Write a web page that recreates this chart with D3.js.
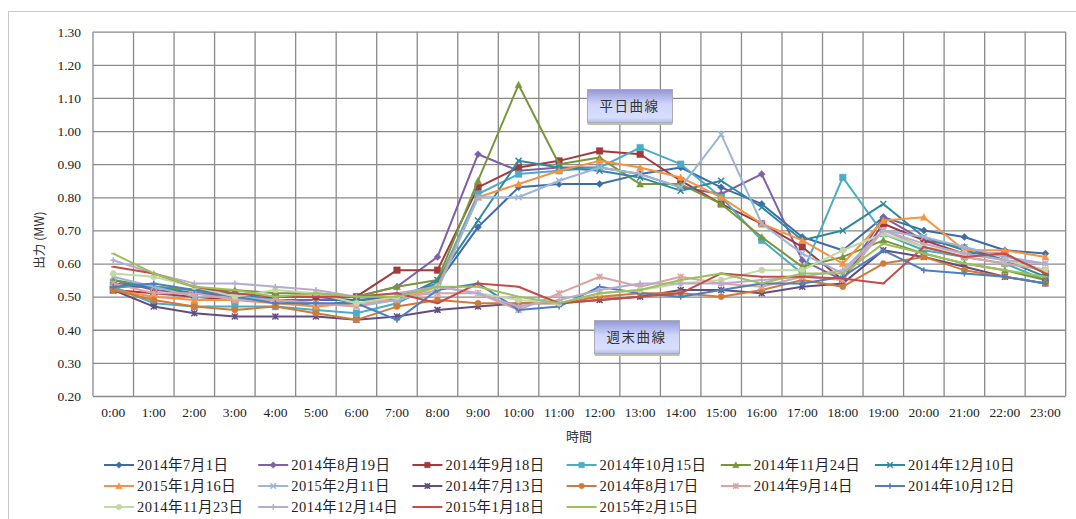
<!DOCTYPE html>
<html><head><meta charset="utf-8">
<script src="https://cdn.jsdelivr.net/npm/d3@7"></script>
<style>
html,body{margin:0;padding:0;background:#fff;}
svg{display:block;}
</style>
</head><body>
<svg id="chart" width="1076" height="519"></svg>
<script>
const hours = ["0:00","1:00","2:00","3:00","4:00","5:00","6:00","7:00","8:00","9:00","10:00","11:00","12:00","13:00","14:00","15:00","16:00","17:00","18:00","19:00","20:00","21:00","22:00","23:00"];
const yTicks = [0.20,0.30,0.40,0.50,0.60,0.70,0.80,0.90,1.00,1.10,1.20,1.30];

const seriesNames = ["2014年7月1日","2014年8月19日","2014年9月18日","2014年10月15日","2014年11月24日","2014年12月10日",
  "2015年1月16日","2015年2月11日","2014年7月13日","2014年8月17日","2014年9月14日","2014年10月12日",
  "2014年11月23日","2014年12月14日","2015年1月18日","2015年2月15日"];
const seriesColors = ["#3d6ca6","#7f60a8","#a3393b","#4aacc5","#78973c","#2f8aa0",
  "#f7923f","#9db5d8","#634c82","#d27a35","#dba3a2","#4a7fc0",
  "#c3d8a3","#b9a9d0","#c24d4a","#9bc15a"];
const seriesMarkers = ["diamond","diamond","square","square","triangle","x","triangle","x",
  "star","circle","asterisk","plus","circle","plus","dash","dash"];

const s0701 = [0.53,0.53,0.52,0.50,0.49,0.49,0.49,0.50,0.54,0.71,0.83,0.84,0.84,0.87,0.89,0.83,0.78,0.68,0.64,0.74,0.70,0.68,0.64,0.63];
const s0819 = [0.55,0.52,0.51,0.50,0.49,0.49,0.50,0.53,0.62,0.93,0.88,0.89,0.89,0.87,0.83,0.81,0.87,0.61,0.55,0.74,0.67,0.65,0.61,0.58];
const s0918 = [0.52,0.51,0.50,0.49,0.50,0.50,0.50,0.58,0.58,0.83,0.89,0.91,0.94,0.93,0.85,0.78,0.72,0.65,0.55,0.72,0.67,0.63,0.63,0.57];
const s1015 = [0.53,0.48,0.47,0.47,0.47,0.46,0.45,0.48,0.54,0.81,0.87,0.88,0.89,0.95,0.90,0.80,0.67,0.57,0.86,0.69,0.64,0.62,0.60,0.55];
const s1124 = [0.55,0.53,0.52,0.52,0.51,0.51,0.50,0.53,0.55,0.85,1.14,0.90,0.92,0.84,0.84,0.78,0.68,0.59,0.62,0.67,0.63,0.60,0.58,0.55];
const s1210 = [0.54,0.53,0.51,0.51,0.49,0.47,0.49,0.49,0.55,0.73,0.91,0.89,0.88,0.86,0.82,0.85,0.77,0.67,0.70,0.78,0.68,0.64,0.61,0.56];
const s0116 = [0.52,0.50,0.49,0.49,0.48,0.47,0.48,0.49,0.53,0.80,0.84,0.88,0.91,0.89,0.86,0.80,0.72,0.67,0.60,0.73,0.74,0.64,0.64,0.62];
const s0211 = [0.56,0.53,0.50,0.50,0.49,0.48,0.47,0.49,0.52,0.80,0.80,0.85,0.89,0.87,0.83,0.99,0.72,0.63,0.57,0.70,0.68,0.65,0.62,0.60];
const s0713 = [0.52,0.47,0.45,0.44,0.44,0.44,0.43,0.44,0.46,0.47,0.48,0.48,0.49,0.50,0.52,0.52,0.51,0.53,0.54,0.64,0.62,0.59,0.56,0.54];
const s0817 = [0.52,0.49,0.47,0.46,0.47,0.45,0.43,0.47,0.49,0.48,0.48,0.48,0.50,0.51,0.51,0.50,0.52,0.55,0.53,0.60,0.62,0.58,0.56,0.54];
const s0914 = [0.54,0.51,0.51,0.49,0.49,0.48,0.47,0.50,0.51,0.51,0.46,0.51,0.56,0.53,0.56,0.54,0.53,0.56,0.55,0.70,0.65,0.62,0.60,0.58];
const s1012 = [0.53,0.54,0.52,0.50,0.48,0.48,0.48,0.43,0.52,0.54,0.46,0.47,0.53,0.51,0.50,0.52,0.54,0.54,0.56,0.64,0.58,0.57,0.56,0.54];
const s1123 = [0.57,0.56,0.53,0.50,0.52,0.51,0.48,0.50,0.53,0.51,0.49,0.48,0.51,0.52,0.54,0.55,0.58,0.58,0.64,0.69,0.65,0.63,0.61,0.58];
const s1214 = [0.61,0.57,0.54,0.54,0.53,0.52,0.50,0.51,0.53,0.51,0.47,0.49,0.52,0.54,0.54,0.54,0.55,0.56,0.58,0.70,0.66,0.63,0.61,0.60];
const s0118 = [0.59,0.57,0.53,0.51,0.50,0.50,0.50,0.51,0.48,0.54,0.53,0.48,0.49,0.50,0.51,0.57,0.56,0.56,0.555,0.54,0.65,0.62,0.63,0.57];
const s0215 = [0.63,0.57,0.53,0.52,0.50,0.51,0.50,0.50,0.53,0.53,0.50,0.48,0.51,0.52,0.55,0.57,0.54,0.57,0.57,0.66,0.63,0.60,0.58,0.56];

const seriesValues = [s0701,s0819,s0918,s1015,s1124,s1210,s0116,s0211,s0713,s0817,s0914,s1012,s1123,s1214,s0118,s0215];

const svg = d3.select("#chart");
const plotL = 93, plotR = 1065.7, plotT = 31.7, plotB = 396;

// outer frame
svg.append("rect").attr("x",8.5).attr("y",11.5).attr("width",1100).attr("height",600)
  .attr("fill","none").attr("stroke","#c8c8c8").attr("stroke-width",1);

const x = d3.scaleBand().domain(hours).range([plotL,plotR]);
const y = d3.scaleLinear().domain([0.2,1.3]).range([plotB,plotT]);
const cx = h => x(h) + x.bandwidth()/2;

// horizontal grid
const gy = svg.append("g").attr("transform",`translate(${plotL},0)`)
  .call(d3.axisLeft(y).tickValues(yTicks).tickSize(-(plotR-plotL)).tickFormat(d3.format(".2f")).tickPadding(12));
gy.select(".domain").remove();
gy.selectAll(".tick line").attr("stroke","#8a8a8a").attr("stroke-width",1.3);
gy.selectAll(".tick text").attr("font-family","'Liberation Serif','Times New Roman',serif")
  .attr("font-size",13.5).attr("fill","#222");

// vertical grid
const gx = svg.append("g").attr("transform",`translate(0,${plotB})`)
  .call(d3.axisBottom(x).tickSize(0).tickPadding(11));
gx.select(".domain").remove();
gx.selectAll(".tick text").attr("font-family","'Liberation Serif','Times New Roman',serif")
  .attr("font-size",13.5).attr("fill","#222");
const vgrid = d3.range(hours.length+1).map(i => i===hours.length ? plotR : x(hours[i]));
svg.append("g").selectAll("line").data(vgrid).join("line")
  .attr("x1",d=>d).attr("x2",d=>d).attr("y1",plotT).attr("y2",plotB)
  .attr("stroke","#8a8a8a").attr("stroke-width",1.3);

// axis titles
svg.append("text").attr("x",579).attr("y",441).attr("text-anchor","middle")
  .attr("font-family","'Noto Sans CJK JP',sans-serif").attr("font-size",13).attr("fill","#333").text("時間");
svg.append("text").attr("transform","translate(44,240) rotate(-90)").attr("text-anchor","middle")
  .attr("font-family","'Noto Sans CJK JP',sans-serif").attr("font-size",12.5).attr("fill","#333").text("出力 (MW)");

function markerPath(type, s){
  const h = s/2;
  switch(type){
    case "diamond": return `M0,${-h-0.5}L${h+0.5},0L0,${h+0.5}L${-h-0.5},0Z`;
    case "square": return `M${-h},${-h}H${h}V${h}H${-h}Z`;
    case "triangle": return `M0,${-h-0.5}L${h+0.5},${h}L${-h-0.5},${h}Z`;
    case "circle": return d3.symbol(d3.symbolCircle, s*s*0.8)();
    case "x": return `M${-h},${-h}L${h},${h}M${-h},${h}L${h},${-h}`;
    case "star": return `M${-h},${-h}L${h},${h}M${-h},${h}L${h},${-h}M0,${-h}V${h}`;
    case "asterisk": return `M${-h},${-h}L${h},${h}M${-h},${h}L${h},${-h}M0,${-h}V${h}`;
    case "plus": return `M${-h},0H${h}M0,${-h}V${h}`;
    case "dash": return `M${-h+1},0H${h-1}`;
  }
}
const filled = t => ["diamond","square","triangle","circle"].includes(t);

const line = d3.line().x((d,i)=>cx(hours[i])).y(d=>y(d));
const plot = svg.append("g");
seriesValues.forEach((vals, k) => {
  const g = plot.append("g");
  const col = seriesColors[k], mk = seriesMarkers[k];
  g.append("path").datum(vals).attr("d",line).attr("fill","none")
    .attr("stroke",col).attr("stroke-width",2).attr("stroke-linejoin","round");
  const sz = mk==="square" ? 6.5 : 6;
  g.selectAll("path.m").data(vals).join("path").attr("class","m")
    .attr("transform",(d,i)=>`translate(${cx(hours[i])},${y(d)})`)
    .attr("d",markerPath(mk,sz))
    .attr("fill",filled(mk)?col:"none").attr("stroke",col).attr("stroke-width",filled(mk)?0.5:1.5);
});

// callouts
const defs = svg.append("defs");
const grad = defs.append("linearGradient").attr("id","cg").attr("x1",0).attr("y1",0).attr("x2",0).attr("y2",1);
grad.append("stop").attr("offset","0%").attr("stop-color","#9296d8");
grad.append("stop").attr("offset","45%").attr("stop-color","#cfd6fb");
grad.append("stop").attr("offset","85%").attr("stop-color","#d7defe");
grad.append("stop").attr("offset","100%").attr("stop-color","#b7bde6");
const callouts = [
  {label:"平日曲線", x:587, y:89, w:85, h:33},
  {label:"週末曲線", x:594, y:320, w:85, h:33}
];
callouts.forEach(c => {
  const g = svg.append("g");
  g.append("rect").attr("x",c.x+0.5).attr("y",c.y+c.h-1).attr("width",c.w).attr("height",4)
    .attr("fill","#b9c3b0");
  g.append("rect").attr("x",c.x+0.5).attr("y",c.y+0.5).attr("width",c.w).attr("height",c.h)
    .attr("fill","url(#cg)").attr("stroke","#a9abb8").attr("stroke-width",1);
  g.append("text").attr("x",c.x+c.w/2).attr("y",c.y+c.h/2+5).attr("text-anchor","middle")
    .attr("font-family","'Noto Sans CJK JP',sans-serif").attr("font-size",13.5).attr("letter-spacing",1.5)
    .attr("fill","#333").text(c.label);
});

// legend
const lg = svg.append("g");
seriesNames.forEach((name,k) => {
  const col = k % 6, row = Math.floor(k/6);
  const lx = 104 + col*154.2, ly = 465 + row*21;
  const g = lg.append("g").attr("transform",`translate(${lx},${ly})`);
  g.append("line").attr("x1",0).attr("x2",30).attr("y1",0).attr("y2",0)
    .attr("stroke",seriesColors[k]).attr("stroke-width",2);
  const mk = seriesMarkers[k];
  g.append("path").attr("transform","translate(15,0)").attr("d",markerPath(mk,5.5))
    .attr("fill",filled(mk)?seriesColors[k]:"none").attr("stroke",seriesColors[k]).attr("stroke-width",filled(mk)?0.5:1.5);
  g.append("text").attr("x",33).attr("y",5).attr("font-family","'Liberation Serif','Noto Sans CJK JP',serif")
    .attr("font-size",14.5).attr("letter-spacing",0.5).attr("fill","#222").text(name);
});
</script>
</body></html>
